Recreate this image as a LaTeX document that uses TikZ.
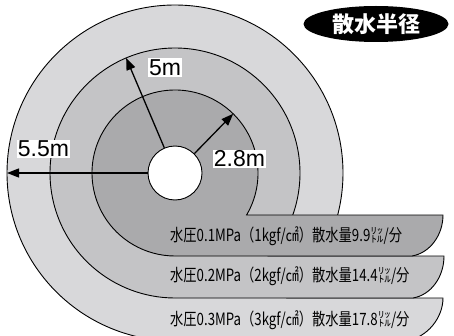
\documentclass[tikz,border=0pt]{standalone}
\usepackage{fontspec}
\setmainfont{Liberation Sans}
\newfontfamily\jpfont{Noto Sans CJK JP}
\usetikzlibrary{calc,shapes.geometric,arrows.meta}
\definecolor{ringin}{RGB}{170,170,172}
\definecolor{ringmid}{RGB}{196,196,198}
\definecolor{ringout}{RGB}{216,216,218}
\tikzset{
 zone/.style={draw=black,line width=0.9pt},
 radius arrow/.style={line width=1.3pt,-{Triangle[length=12pt,width=9pt]}},
 dist label/.style={fill=white,inner sep=1pt,font=\fontsize{23}{25}\selectfont},
 band text/.style={anchor=west,inner sep=0pt,font=\jpfont\fontsize{17}{19}\selectfont},
}
\begin{document}
\begin{tikzpicture}[x=1pt,y=1pt]
 \useasboundingbox (0,0) rectangle (454,335);
 \coordinate (C) at (175,162);
 % rings with their bands, outer first
 \draw[zone,fill=ringout] ($(C)+(-48.1:168)$) arc[start angle=-48.1,end angle=270,radius=168] -- (405,-6) .. controls (428,-3) and (443,18) .. (443,37) -- cycle;
 \draw[zone,fill=ringmid] ($(C)+(-41.6:125)$) arc[start angle=-41.6,end angle=270,radius=125] -- (413,37) .. controls (431,40) and (444,58) .. (444,79) -- cycle;
 \draw[zone,fill=ringin] ($(C)+(-30.4:83)$) arc[start angle=-30.4,end angle=270,radius=83] -- (412,79) .. controls (430,82) and (443,100) .. (443,120) -- cycle;
 \node[zone,circle,fill=white,minimum size=54pt,inner sep=0pt] (hole) at (C) {};
 % radii
 \coordinate (r28) at ($(C)+(45.5:83)$);
 \coordinate (r5) at ($(C)+(113:125)$);
 \coordinate (r55) at ($(C)+(180:168)$);
 \draw[radius arrow] (hole.45.5) -- (r28);
 \draw[radius arrow] (hole.113) -- (r5);
 \draw[radius arrow] (hole.west) -- (r55);
 \node[dist label] (l5) at (165,267.5) {5m};
 \node[dist label] (l28) at (239.5,176) {2.8m};
 \node[dist label] (l55) at (43.5,186) {5.5m};
 % band texts
 \node[band text] (p1) at (170,99) {\scalebox{0.78}[1]{水圧0.1MPa（1kgf/㎠）散水量9.9㍑/分}};
 \node[band text] (p2) at (170,59) {\scalebox{0.78}[1]{水圧0.2MPa（2kgf/㎠）散水量14.4㍑/分}};
 \node[band text] (p3) at (170,15) {\scalebox{0.78}[1]{水圧0.3MPa（3kgf/㎠）散水量17.8㍑/分}};
 % title
 \node[ellipse,fill=black,minimum width=145pt,minimum height=36pt,inner sep=0pt,text=white,font=\jpfont\bfseries\fontsize{22}{24}\selectfont] (title) at (376,311) {散水半径};
\end{tikzpicture}
\end{document}
